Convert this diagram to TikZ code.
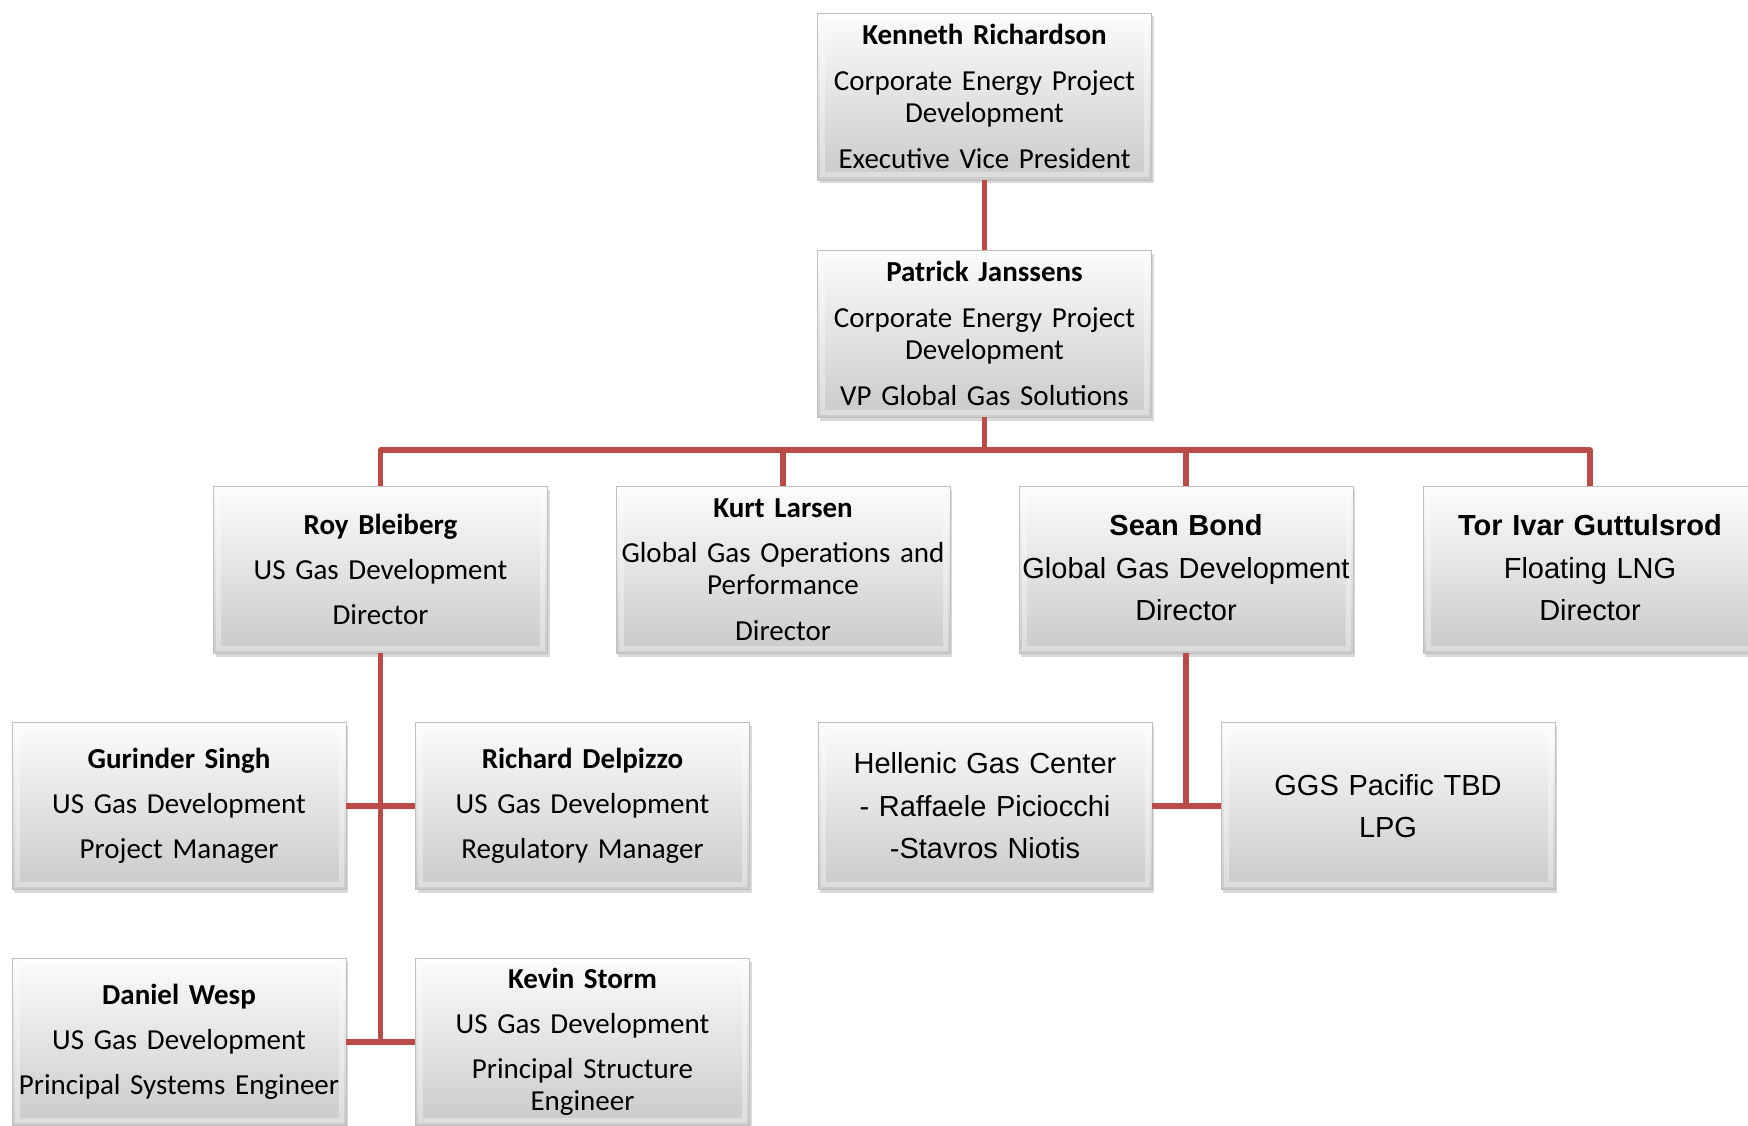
\documentclass[tikz,border=0pt]{standalone}
\usepackage{fontspec}
\setmainfont{Carlito}
\newfontfamily\arialf{Liberation Sans}
\usetikzlibrary{shadows}
\definecolor{conn}{RGB}{186,75,72}
\definecolor{boxtop}{RGB}{252,252,252}
\definecolor{boxbot}{RGB}{202,202,202}
\begin{document}
\begin{tikzpicture}[x=1pt,y=-1pt,
  orgbox/.style={rectangle, minimum width=334pt, minimum height=167pt,
    inner sep=0pt, text width=332pt, align=center,
    top color=boxtop, bottom color=boxbot, draw=black!25, line width=0.8pt,
    drop shadow={shadow xshift=2pt, shadow yshift=-3.5pt, opacity=0.25, fill=black!60},
    path picture={\draw[white, opacity=0.35, line width=5pt]
      ([shift={(5pt,5pt)}]path picture bounding box.south west) rectangle
      ([shift={(-5pt,-5pt)}]path picture bounding box.north east);},
    font=\fontsize{29pt}{32pt}\selectfont},
  arialbox/.style={orgbox, font=\arialf\fontsize{29pt}{42.5pt}\selectfont},
  link/.style={draw=conn, line width=5.5pt}]
\useasboundingbox (0,0) rectangle (1748,1126);

\coordinate (bus) at (984.5,450);

\node[orgbox] (K) at (984.5,96.5) {\textbf{Kenneth Richardson}\\[14pt]Corporate Energy Project\\Development\\[14pt]Executive Vice President};
\node[orgbox] (P) at (984.5,333.5) {\textbf{Patrick Janssens}\\[14pt]Corporate Energy Project\\Development\\[14pt]VP Global Gas Solutions};
\node[orgbox] (Roy) at (380.5,569.5) {\textbf{Roy Bleiberg}\\[13pt]US Gas Development\\[13pt]Director};
\node[orgbox] (Kurt) at (783,569.5) {\textbf{Kurt Larsen}\\[13pt]Global Gas Operations and\\Performance\\[14pt]Director};
\node[arialbox] (Sean) at (1186,569.5) {\textbf{Sean Bond}\\Global Gas Development\\Director\vspace{3pt}};
\node[arialbox] (Tor) at (1590,569.5) {\textbf{Tor Ivar Guttulsrod}\\Floating LNG\\Director\vspace{3pt}};
\node[orgbox] (Gur) at (179,806) {\textbf{Gurinder Singh}\\[13pt]US Gas Development\\[13pt]Project Manager};
\node[orgbox] (Rich) at (582.5,806) {\textbf{Richard Delpizzo}\\[13pt]US Gas Development\\[13pt]Regulatory Manager};
\node[arialbox] (Hel) at (985,806) {Hellenic Gas Center\\- Raffaele Piciocchi\\-Stavros Niotis};
\node[arialbox] (GGS) at (1388,806) {GGS Pacific TBD\\LPG};
\node[orgbox] (Dan) at (179,1042) {\textbf{Daniel Wesp}\\[13pt]US Gas Development\\[13pt]Principal Systems Engineer};
\node[orgbox] (Kev) at (582.5,1042) {\textbf{Kevin Storm}\\[13pt]US Gas Development\\[13pt]Principal Structure\\Engineer};

\path[link] (K.south) -- (P.north);
\path[link] (P.south) -- (bus);
\path[link, line join=round] (Roy.north) |- (bus) -| (Tor.north);
\path[link] (Kurt.north) -- (Kurt.north |- bus);
\path[link] (Sean.north) -- (Sean.north |- bus);
\path[link] (Roy.south) -- (Roy.south |- Dan.east);
\path[link] (Gur.east) -- (Rich.west);
\path[link] (Dan.east) -- (Kev.west);
\path[link] (Sean.south) -- (Sean.south |- Hel.east);
\path[link] (Hel.east) -- (GGS.west);
\end{tikzpicture}
\end{document}
